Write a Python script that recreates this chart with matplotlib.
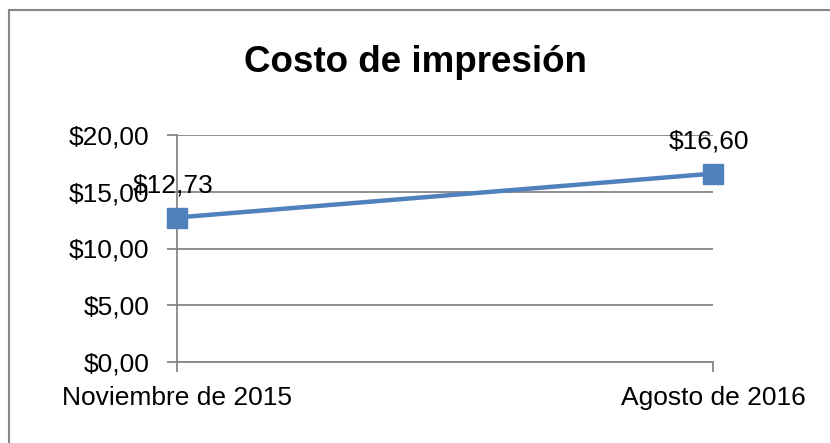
import matplotlib
matplotlib.use("Agg")
import matplotlib.pyplot as plt
from matplotlib.lines import Line2D

plt.rcParams['font.family'] = ['Liberation Sans', 'DejaVu Sans']

# datos
fechas = ['Noviembre de 2015', 'Agosto de 2016']
costo = [12.73, 16.60]
y_ticks = [0, 5, 10, 15, 20]

azul = '#4F81BD'
gris = '#868686'

fig = plt.figure(figsize=(8.30, 4.43), dpi=100)
ax = fig.add_axes([177 / 830, 1 - 362 / 443, (713 - 177) / 830, (362 - 135) / 443])

x = list(range(len(fechas)))
ax.plot(x, costo, color=azul, linewidth=3.2, marker='s', markersize=14.5,
        markeredgecolor=azul, markerfacecolor=azul, zorder=3, clip_on=False)

for xi, v in zip(x, costo):
    ax.annotate('$' + ('%.2f' % v).replace('.', ','), (xi, v),
                xytext=(-3, 23), textcoords='offset points',
                ha='center', va='center', fontsize=19, color='black')

ax.set_xlim(0, len(fechas) - 1)
ax.set_ylim(0, 20)
ax.set_xticks(x)
ax.set_xticklabels(fechas, fontsize=19)
ax.set_yticks(y_ticks)
ax.set_yticklabels(['$' + '%d,00' % t for t in y_ticks], fontsize=19)

for s in ['top', 'right']:
    ax.spines[s].set_visible(False)
for s in ['left', 'bottom']:
    ax.spines[s].set_color(gris)
    ax.spines[s].set_linewidth(1.3)

ax.grid(axis='y', color=gris, linewidth=1.3)
ax.set_axisbelow(True)
ax.tick_params(axis='y', direction='out', length=7, width=1.3, color=gris, pad=13)
ax.tick_params(axis='x', direction='out', length=7, width=1.3, color=gris, pad=10)

fig.text(0.5, 1 - 62 / 443, 'Costo de impresión', ha='center', va='center',
         fontsize=26.5, fontweight='bold')

# borde del gráfico
fig.add_artist(Line2D([9 / 830, 1], [1 - 10 / 443, 1 - 10 / 443],
                      transform=fig.transFigure, color=gris, linewidth=1.5))
fig.add_artist(Line2D([9 / 830, 9 / 830], [0, 1 - 10 / 443],
                      transform=fig.transFigure, color=gris, linewidth=1.5))

fig.savefig('out.png', dpi=100)
